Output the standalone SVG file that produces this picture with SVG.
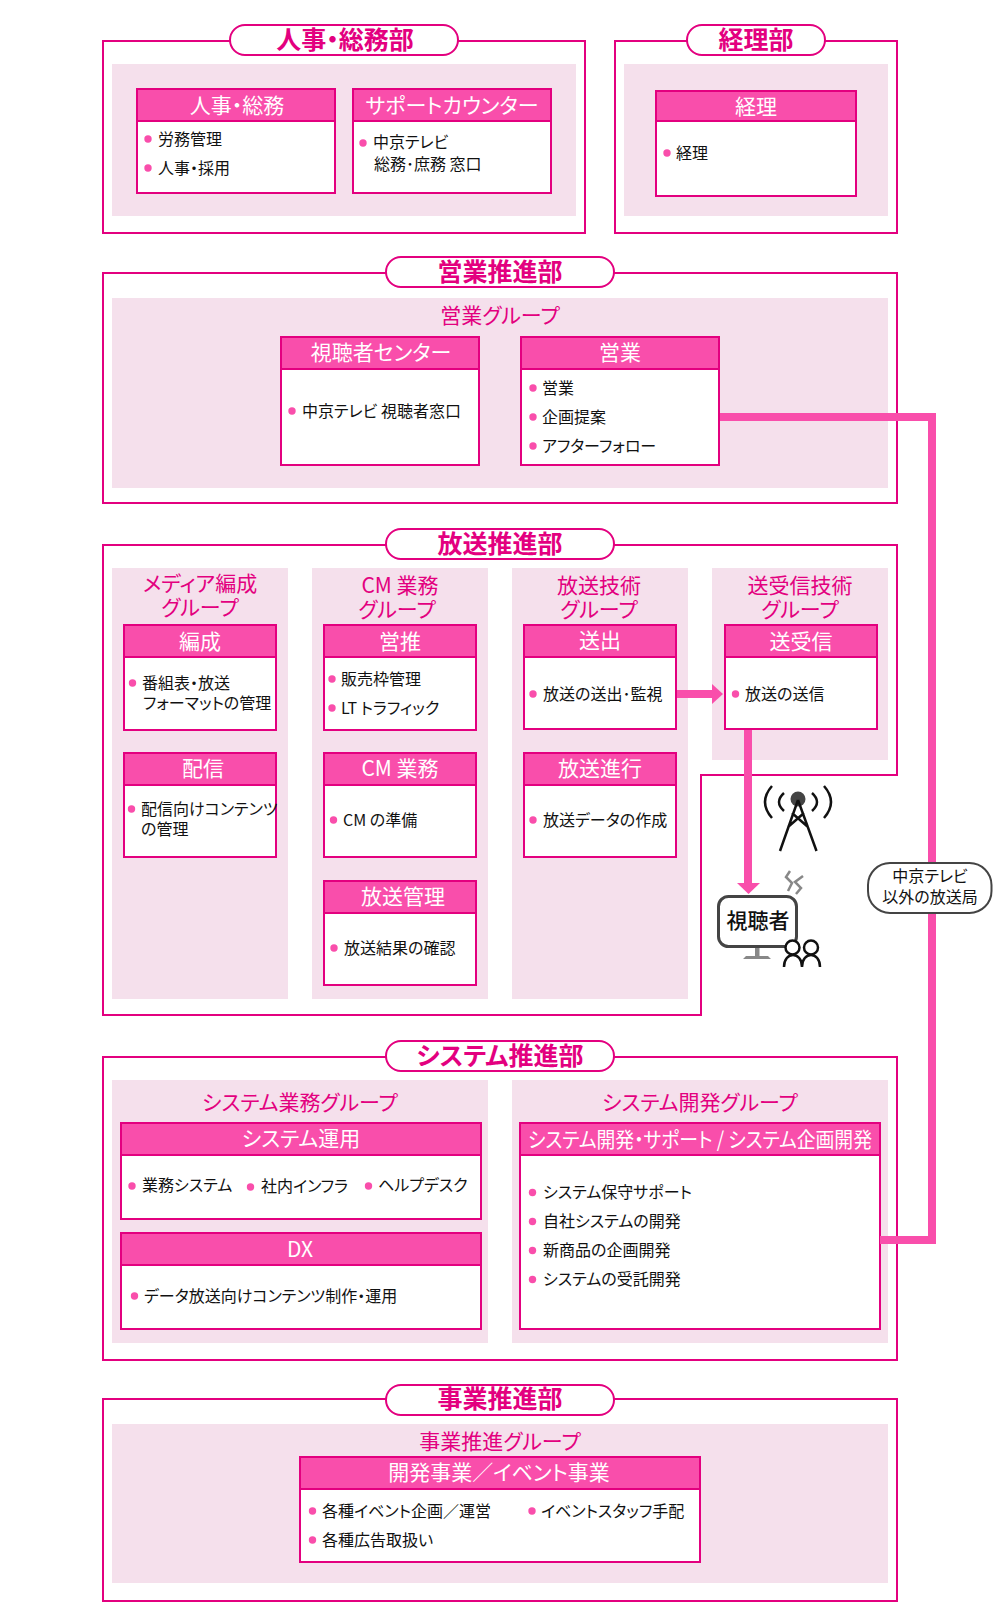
<svg xmlns="http://www.w3.org/2000/svg" width="1000" height="1624" viewBox="0 0 1000 1624">
<style>
text{font-family:"Noto Sans CJK JP","Noto Sans",sans-serif;font-feature-settings:"palt"}
.o{fill:none;stroke:#e3007f;stroke-width:2}
.p{fill:#f5e0ec}
.b{fill:#fff;stroke:#e3007f;stroke-width:2}
.h{fill:#f94eab;stroke:#e3007f;stroke-width:2}
.pill{fill:#fff;stroke:#e3007f;stroke-width:2}
.t{fill:#e3007f;font-size:25px;font-weight:700;text-anchor:middle}
.g{fill:#e3007f;font-size:21px;text-anchor:middle}
.ht{fill:#fff;font-size:21px;text-anchor:middle}
.i{fill:#111;font-size:16px}
.d{fill:#f94eab}
.c{fill:none;stroke:#f94eab;stroke-width:8}
.a{fill:#f94eab}
.ic{fill:none;stroke:#111;stroke-width:2.5}
</style>
<g id="dept-jinji">
<rect class="o" x="103" y="41" width="482" height="192"/>
<rect class="p" x="112" y="64" width="464" height="152"/>
<rect class="pill" x="230" y="25" width="228" height="30" rx="15"/>
<text class="t" x="345" y="49">人事・総務部</text>
</g>
<g id="box-jinji"><rect class="b" x="137" y="89" width="198" height="104"/><rect class="h" x="137" y="89" width="198" height="32"/><text class="ht" x="237" y="113">人事・総務</text>
<circle class="d" cx="148" cy="139" r="3.7"/><text class="i" x="158" y="145">労務管理</text><circle class="d" cx="148" cy="168" r="3.7"/><text class="i" x="158" y="174">人事・採用</text></g>
<g id="box-support"><rect class="b" x="353" y="89" width="198" height="104"/><rect class="h" x="353" y="89" width="198" height="32"/><text class="ht" x="452" y="113">サポートカウンター</text>
<circle class="d" cx="363" cy="143" r="3.7"/><text class="i" y="148"><tspan x="373">中京テレビ</tspan><tspan x="374" y="170">総務･庶務 窓口</tspan></text></g>
<g id="dept-keiri">
<rect class="o" x="615" y="41" width="282" height="192"/>
<rect class="p" x="624" y="64" width="264" height="152"/>
<rect class="pill" x="687" y="25" width="138" height="30" rx="15"/>
<text class="t" x="756" y="49">経理部</text>
</g>
<g id="box-keiri"><rect class="b" x="656" y="91" width="200" height="105"/><rect class="h" x="656" y="91" width="200" height="30"/><text class="ht" x="756" y="114">経理</text>
<circle class="d" cx="667" cy="153" r="3.7"/><text class="i" x="676" y="159">経理</text></g>

<g id="dept-eigyo">
<rect class="o" x="103" y="273" width="794" height="230"/>
<rect class="p" x="112" y="298" width="776" height="190"/>
<rect class="pill" x="386" y="257" width="228" height="30" rx="15"/>
<text class="t" x="500" y="281">営業推進部</text>
<text class="g" x="500" y="323">営業グループ</text>
</g>
<g id="box-shicho"><rect class="b" x="281" y="337" width="198" height="128"/><rect class="h" x="281" y="337" width="198" height="32"/><text class="ht" x="381" y="360">視聴者センター</text>
<circle class="d" cx="292" cy="411" r="3.7"/><text class="i" x="302" y="417">中京テレビ 視聴者窓口</text></g>
<g id="box-eigyo"><rect class="b" x="521" y="337" width="198" height="128"/><rect class="h" x="521" y="337" width="198" height="32"/><text class="ht" x="620" y="360">営業</text>
<circle class="d" cx="533" cy="388" r="3.7"/><text class="i" x="542" y="394">営業</text><circle class="d" cx="533" cy="417" r="3.7"/><text class="i" x="542" y="423">企画提案</text><circle class="d" cx="533" cy="446" r="3.7"/><text class="i" x="542" y="452">アフターフォロー</text></g>

<g id="dept-hoso">
<path class="o" d="M103 545H897V775H701V1015H103Z"/>
<rect class="p" x="112" y="568" width="176" height="431"/>
<rect class="p" x="312" y="568" width="176" height="431"/>
<rect class="p" x="512" y="568" width="176" height="431"/>
<rect class="p" x="712" y="568" width="176" height="192"/>
<rect class="pill" x="386" y="529" width="228" height="30" rx="15"/>
<text class="t" x="500" y="553">放送推進部</text>
<text class="g" y="591"><tspan x="200">メディア編成</tspan><tspan x="200" y="615">グループ</tspan></text>
<text class="g" y="593"><tspan x="400">CM 業務</tspan><tspan x="397" y="617">グループ</tspan></text>
<text class="g" y="593"><tspan x="599">放送技術</tspan><tspan x="599" y="617">グループ</tspan></text>
<text class="g" y="593"><tspan x="800">送受信技術</tspan><tspan x="800" y="617">グループ</tspan></text>
</g>
<g id="box-hensei"><rect class="b" x="124" y="625" width="152" height="105"/><rect class="h" x="124" y="625" width="152" height="32"/><text class="ht" x="200" y="649">編成</text>
<circle class="d" cx="132.500" cy="683" r="3.7"/><text class="i" y="689"><tspan x="142">番組表・放送</tspan><tspan x="143" y="709">フォーマットの管理</tspan></text></g>
<g id="box-haishin"><rect class="b" x="124" y="753" width="152" height="104"/><rect class="h" x="124" y="753" width="152" height="32"/><text class="ht" x="203" y="776">配信</text>
<circle class="d" cx="131.500" cy="809" r="3.7"/><text class="i" y="815"><tspan x="141">配信向けコンテンツ</tspan><tspan x="141" y="835">の管理</tspan></text></g>
<g id="box-eisui"><rect class="b" x="324" y="625" width="152" height="105"/><rect class="h" x="324" y="625" width="152" height="32"/><text class="ht" x="400" y="649">営推</text>
<circle class="d" cx="332" cy="679" r="3.7"/><text class="i" x="341" y="685">販売枠管理</text><circle class="d" cx="332" cy="708" r="3.7"/><text class="i" x="341" y="714">LT トラフィック</text></g>
<g id="box-cm"><rect class="b" x="324" y="753" width="152" height="104"/><rect class="h" x="324" y="753" width="152" height="32"/><text class="ht" x="400" y="776">CM 業務</text>
<circle class="d" cx="333.500" cy="820" r="3.7"/><text class="i" x="343" y="826">CM の準備</text></g>
<g id="box-kekka"><rect class="b" x="324" y="881" width="152" height="104"/><rect class="h" x="324" y="881" width="152" height="32"/><text class="ht" x="403" y="904">放送管理</text>
<circle class="d" cx="334" cy="948" r="3.7"/><text class="i" x="344" y="954">放送結果の確認</text></g>
<g id="box-sojutsu"><rect class="b" x="524" y="625" width="152" height="104"/><rect class="h" x="524" y="625" width="152" height="32"/><text class="ht" x="600" y="648">送出</text>
<circle class="d" cx="533" cy="694" r="3.7"/><text class="i" x="543" y="700">放送の送出･監視</text></g>
<g id="box-shinko"><rect class="b" x="524" y="753" width="152" height="104"/><rect class="h" x="524" y="753" width="152" height="32"/><text class="ht" x="600" y="776">放送進行</text>
<circle class="d" cx="533" cy="820" r="3.7"/><text class="i" x="543" y="826">放送データの作成</text></g>
<g id="box-sojushin"><rect class="b" x="725" y="625" width="152" height="104"/><rect class="h" x="725" y="625" width="152" height="32"/><text class="ht" x="801" y="649">送受信</text>
<circle class="d" cx="735.500" cy="694" r="3.7"/><text class="i" x="745" y="700">放送の送信</text></g>

<g id="dept-system">
<rect class="o" x="103" y="1057" width="794" height="303"/>
<rect class="p" x="112" y="1080" width="376" height="263"/>
<rect class="p" x="512" y="1080" width="376" height="263"/>
<rect class="pill" x="386" y="1041" width="228" height="30" rx="15"/>
<text class="t" x="500" y="1065">システム推進部</text>
<text class="g" x="300" y="1110">システム業務グループ</text>
<text class="g" x="700" y="1110">システム開発グループ</text>
</g>
<g id="box-unyo"><rect class="b" x="121" y="1123" width="360" height="96"/><rect class="h" x="121" y="1123" width="360" height="32"/><text class="ht" x="301" y="1146">システム運用</text>
<circle class="d" cx="132" cy="1186" r="3.7"/><text class="i" x="142" y="1191">業務システム</text><circle class="d" cx="250.500" cy="1187" r="3.7"/><text class="i" x="261" y="1192">社内インフラ</text><circle class="d" cx="368.500" cy="1186" r="3.7"/><text class="i" x="378" y="1191">ヘルプデスク</text></g>
<g id="box-dx"><rect class="b" x="121" y="1233" width="360" height="96"/><rect class="h" x="121" y="1233" width="360" height="32"/><text class="ht" x="300" y="1257">DX</text>
<circle class="d" cx="134.500" cy="1296" r="3.7"/><text class="i" x="144" y="1302">データ放送向けコンテンツ制作・運用</text></g>
<g id="box-kaihatsu"><rect class="b" x="520" y="1123" width="360" height="206"/><rect class="h" x="520" y="1123" width="360" height="32"/><text class="ht" x="700" y="1147" textLength="344" lengthAdjust="spacingAndGlyphs">システム開発・サポート / システム企画開発</text>
<circle class="d" cx="532.500" cy="1192.500" r="3.7"/><text class="i" x="543" y="1198">システム保守サポート</text><circle class="d" cx="532.500" cy="1221.500" r="3.7"/><text class="i" x="543" y="1227">自社システムの開発</text><circle class="d" cx="532.500" cy="1250.500" r="3.7"/><text class="i" x="543" y="1256">新商品の企画開発</text><circle class="d" cx="532.500" cy="1279.500" r="3.7"/><text class="i" x="543" y="1285">システムの受託開発</text></g>

<g id="dept-jigyo">
<rect class="o" x="103" y="1399" width="794" height="202"/>
<rect class="p" x="112" y="1424" width="776" height="159"/>
<rect class="pill" x="386" y="1385" width="228" height="30" rx="15"/>
<text class="t" x="500" y="1408">事業推進部</text>
<text class="g" x="500" y="1449">事業推進グループ</text>
</g>
<g id="box-jigyo"><rect class="b" x="300" y="1457" width="400" height="105"/><rect class="h" x="300" y="1457" width="400" height="32"/><text class="ht" x="499" y="1480">開発事業／イベント事業</text>
<circle class="d" cx="312.500" cy="1511" r="3.7"/><text class="i" x="322" y="1517">各種イベント企画／運営</text><circle class="d" cx="532" cy="1511" r="3.7"/><text class="i" x="541" y="1517">イベントスタッフ手配</text><circle class="d" cx="312.500" cy="1540" r="3.7"/><text class="i" x="322" y="1546">各種広告取扱い</text></g>

<g id="connectors">
<path class="c" d="M720 417H932V1240H880"/>
<path class="c" d="M677 694H714"/><path class="a" d="M712 684L723 694L712 704Z"/>
<path class="c" d="M748 730V884"/><path class="a" d="M737 883H760L748.500 894Z"/>
</g>
<g id="antenna">
<circle cx="798" cy="799" r="7.500" fill="#444"/>
<path class="ic" d="M798 800L780 851M798 800L816.500 851M792 813L808 827M804 813L788 827"/>
<path class="ic" d="M784 793Q774 802 784 811M812 793Q822 802 812 811M772 786Q758 802 772 818M824 786Q838 802 824 818"/>
</g>
<g id="viewer">
<path d="M790 871L786 877L792 883L788 891M803 876L795 882L801 888L796 894" fill="none" stroke="#888" stroke-width="2.500"/>
<rect x="718.500" y="896.500" width="78" height="50" rx="10" fill="#fff" stroke="#444" stroke-width="3"/>
<text x="758" y="928" font-size="21" font-weight="500" fill="#111" text-anchor="middle">視聴者</text>
<path d="M755 948H759.500V956H768L771 959H743L746 956H755Z" fill="#888"/>
<circle cx="792.500" cy="947.500" r="7" fill="#fff" stroke="#111" stroke-width="2.500"/><circle cx="811" cy="947.500" r="7" fill="#fff" stroke="#111" stroke-width="2.500"/>
<path class="ic" d="M784 967C784 951 802 951 802 967M802 967C802 951 820 951 820 967"/>
</g>
<g id="label-other">
<rect x="868" y="863" width="123.500" height="50" rx="22" fill="#fff" stroke="#444" stroke-width="2"/>
<text class="i" y="882" text-anchor="middle"><tspan x="930">中京テレビ</tspan><tspan x="930" y="903">以外の放送局</tspan></text>
</g>
</svg>
